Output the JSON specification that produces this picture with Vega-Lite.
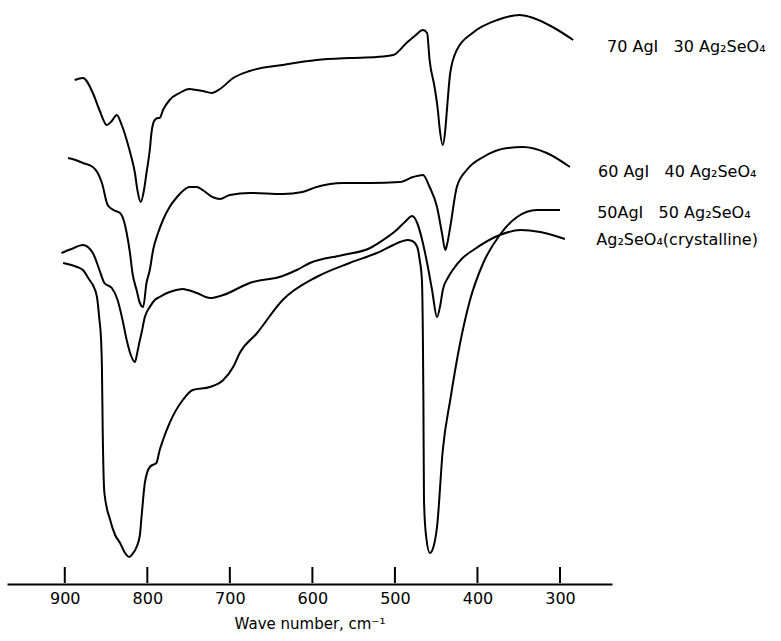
{
  "$schema": "https://vega.github.io/schema/vega-lite/v6.json",
  "width": 605,
  "height": 584,
  "autosize": {"type": "none"},
  "padding": {"left": 7, "top": 0, "right": 169, "bottom": 57},
  "background": "white",
  "config": {"view": {"stroke": null}, "font": "DejaVu Sans"},
  "datasets": {
    "spectra": [
      {"s": "70AgI", "wn": 888, "t": 504}, {"s": "70AgI", "wn": 878, "t": 506}, {"s": "70AgI", "wn": 866, "t": 491}, {"s": "70AgI", "wn": 858, "t": 474}, {"s": "70AgI", "wn": 849, "t": 459}, {"s": "70AgI", "wn": 843, "t": 463}, {"s": "70AgI", "wn": 837, "t": 469}, {"s": "70AgI", "wn": 831, "t": 459}, {"s": "70AgI", "wn": 825, "t": 444}, {"s": "70AgI", "wn": 820, "t": 429}, {"s": "70AgI", "wn": 815, "t": 411}, {"s": "70AgI", "wn": 812, "t": 394}, {"s": "70AgI", "wn": 808, "t": 382}, {"s": "70AgI", "wn": 804, "t": 394}, {"s": "70AgI", "wn": 801, "t": 411}, {"s": "70AgI", "wn": 797, "t": 434}, {"s": "70AgI", "wn": 795, "t": 451}, {"s": "70AgI", "wn": 791, "t": 464}, {"s": "70AgI", "wn": 787, "t": 466}, {"s": "70AgI", "wn": 785, "t": 466}, {"s": "70AgI", "wn": 781, "t": 474}, {"s": "70AgI", "wn": 773, "t": 484}, {"s": "70AgI", "wn": 761, "t": 491}, {"s": "70AgI", "wn": 749, "t": 495}, {"s": "70AgI", "wn": 740, "t": 494}, {"s": "70AgI", "wn": 733, "t": 493}, {"s": "70AgI", "wn": 722, "t": 491}, {"s": "70AgI", "wn": 712, "t": 495}, {"s": "70AgI", "wn": 696, "t": 506}, {"s": "70AgI", "wn": 676, "t": 513}, {"s": "70AgI", "wn": 636, "t": 519}, {"s": "70AgI", "wn": 595, "t": 524}, {"s": "70AgI", "wn": 555, "t": 526}, {"s": "70AgI", "wn": 522, "t": 527}, {"s": "70AgI", "wn": 502, "t": 529}, {"s": "70AgI", "wn": 486, "t": 541}, {"s": "70AgI", "wn": 476, "t": 548}, {"s": "70AgI", "wn": 466, "t": 554}, {"s": "70AgI", "wn": 461, "t": 551}, {"s": "70AgI", "wn": 458, "t": 524}, {"s": "70AgI", "wn": 452, "t": 497}, {"s": "70AgI", "wn": 448, "t": 474}, {"s": "70AgI", "wn": 446, "t": 457}, {"s": "70AgI", "wn": 442, "t": 439}, {"s": "70AgI", "wn": 439, "t": 454}, {"s": "70AgI", "wn": 437, "t": 474}, {"s": "70AgI", "wn": 433, "t": 511}, {"s": "70AgI", "wn": 425, "t": 534}, {"s": "70AgI", "wn": 406, "t": 551}, {"s": "70AgI", "wn": 376, "t": 564}, {"s": "70AgI", "wn": 349, "t": 569}, {"s": "70AgI", "wn": 336, "t": 567}, {"s": "70AgI", "wn": 309, "t": 557}, {"s": "70AgI", "wn": 284, "t": 544},
      {"s": "60AgI", "wn": 896, "t": 426}, {"s": "60AgI", "wn": 887, "t": 424}, {"s": "60AgI", "wn": 878, "t": 421}, {"s": "60AgI", "wn": 866, "t": 417}, {"s": "60AgI", "wn": 860, "t": 411}, {"s": "60AgI", "wn": 855, "t": 401}, {"s": "60AgI", "wn": 848, "t": 379}, {"s": "60AgI", "wn": 841, "t": 374}, {"s": "60AgI", "wn": 833, "t": 371}, {"s": "60AgI", "wn": 828, "t": 362}, {"s": "60AgI", "wn": 825, "t": 351}, {"s": "60AgI", "wn": 821, "t": 331}, {"s": "60AgI", "wn": 818, "t": 311}, {"s": "60AgI", "wn": 813, "t": 294}, {"s": "60AgI", "wn": 809, "t": 281}, {"s": "60AgI", "wn": 805, "t": 277}, {"s": "60AgI", "wn": 801, "t": 301}, {"s": "60AgI", "wn": 797, "t": 314}, {"s": "60AgI", "wn": 793, "t": 334}, {"s": "60AgI", "wn": 787, "t": 351}, {"s": "60AgI", "wn": 781, "t": 364}, {"s": "60AgI", "wn": 773, "t": 377}, {"s": "60AgI", "wn": 764, "t": 387}, {"s": "60AgI", "wn": 757, "t": 393}, {"s": "60AgI", "wn": 749, "t": 397}, {"s": "60AgI", "wn": 740, "t": 397}, {"s": "60AgI", "wn": 733, "t": 394}, {"s": "60AgI", "wn": 721, "t": 387}, {"s": "60AgI", "wn": 712, "t": 385}, {"s": "60AgI", "wn": 700, "t": 389}, {"s": "60AgI", "wn": 676, "t": 391}, {"s": "60AgI", "wn": 636, "t": 390}, {"s": "60AgI", "wn": 612, "t": 392}, {"s": "60AgI", "wn": 595, "t": 397}, {"s": "60AgI", "wn": 563, "t": 401}, {"s": "60AgI", "wn": 530, "t": 401}, {"s": "60AgI", "wn": 494, "t": 402}, {"s": "60AgI", "wn": 478, "t": 407}, {"s": "60AgI", "wn": 466, "t": 409}, {"s": "60AgI", "wn": 458, "t": 397}, {"s": "60AgI", "wn": 449, "t": 377}, {"s": "60AgI", "wn": 443, "t": 351}, {"s": "60AgI", "wn": 439, "t": 334}, {"s": "60AgI", "wn": 437, "t": 339}, {"s": "60AgI", "wn": 433, "t": 357}, {"s": "60AgI", "wn": 425, "t": 397}, {"s": "60AgI", "wn": 413, "t": 414}, {"s": "60AgI", "wn": 393, "t": 427}, {"s": "60AgI", "wn": 364, "t": 436}, {"s": "60AgI", "wn": 345, "t": 437}, {"s": "60AgI", "wn": 316, "t": 431}, {"s": "60AgI", "wn": 288, "t": 417},
      {"s": "50AgI", "wn": 904, "t": 331}, {"s": "50AgI", "wn": 892, "t": 335}, {"s": "50AgI", "wn": 878, "t": 339}, {"s": "50AgI", "wn": 866, "t": 331}, {"s": "50AgI", "wn": 858, "t": 314}, {"s": "50AgI", "wn": 852, "t": 301}, {"s": "50AgI", "wn": 843, "t": 296}, {"s": "50AgI", "wn": 836, "t": 284}, {"s": "50AgI", "wn": 830, "t": 264}, {"s": "50AgI", "wn": 825, "t": 244}, {"s": "50AgI", "wn": 820, "t": 229}, {"s": "50AgI", "wn": 815, "t": 222}, {"s": "50AgI", "wn": 812, "t": 232}, {"s": "50AgI", "wn": 809, "t": 244}, {"s": "50AgI", "wn": 807, "t": 251}, {"s": "50AgI", "wn": 803, "t": 267}, {"s": "50AgI", "wn": 797, "t": 277}, {"s": "50AgI", "wn": 791, "t": 284}, {"s": "50AgI", "wn": 785, "t": 287}, {"s": "50AgI", "wn": 776, "t": 291}, {"s": "50AgI", "wn": 769, "t": 293}, {"s": "50AgI", "wn": 757, "t": 295}, {"s": "50AgI", "wn": 751, "t": 294}, {"s": "50AgI", "wn": 740, "t": 291}, {"s": "50AgI", "wn": 724, "t": 286}, {"s": "50AgI", "wn": 708, "t": 289}, {"s": "50AgI", "wn": 676, "t": 301}, {"s": "50AgI", "wn": 636, "t": 308}, {"s": "50AgI", "wn": 619, "t": 314}, {"s": "50AgI", "wn": 603, "t": 321}, {"s": "50AgI", "wn": 563, "t": 329}, {"s": "50AgI", "wn": 530, "t": 336}, {"s": "50AgI", "wn": 518, "t": 342}, {"s": "50AgI", "wn": 498, "t": 354}, {"s": "50AgI", "wn": 488, "t": 362}, {"s": "50AgI", "wn": 479, "t": 368}, {"s": "50AgI", "wn": 473, "t": 361}, {"s": "50AgI", "wn": 467, "t": 344}, {"s": "50AgI", "wn": 461, "t": 321}, {"s": "50AgI", "wn": 455, "t": 294}, {"s": "50AgI", "wn": 449, "t": 267}, {"s": "50AgI", "wn": 445, "t": 279}, {"s": "50AgI", "wn": 442, "t": 294}, {"s": "50AgI", "wn": 436, "t": 306}, {"s": "50AgI", "wn": 430, "t": 314}, {"s": "50AgI", "wn": 418, "t": 326}, {"s": "50AgI", "wn": 405, "t": 334}, {"s": "50AgI", "wn": 373, "t": 349}, {"s": "50AgI", "wn": 348, "t": 354}, {"s": "50AgI", "wn": 324, "t": 352}, {"s": "50AgI", "wn": 294, "t": 345},
      {"s": "cryst", "wn": 902, "t": 321}, {"s": "cryst", "wn": 885, "t": 317}, {"s": "cryst", "wn": 878, "t": 314}, {"s": "cryst", "wn": 870, "t": 304}, {"s": "cryst", "wn": 866, "t": 299}, {"s": "cryst", "wn": 861, "t": 287}, {"s": "cryst", "wn": 858, "t": 264}, {"s": "cryst", "wn": 856, "t": 244}, {"s": "cryst", "wn": 855, "t": 217}, {"s": "cryst", "wn": 854, "t": 151}, {"s": "cryst", "wn": 852, "t": 91}, {"s": "cryst", "wn": 845, "t": 64}, {"s": "cryst", "wn": 839, "t": 49}, {"s": "cryst", "wn": 833, "t": 41}, {"s": "cryst", "wn": 827, "t": 31}, {"s": "cryst", "wn": 822, "t": 27}, {"s": "cryst", "wn": 818, "t": 30}, {"s": "cryst", "wn": 813, "t": 37}, {"s": "cryst", "wn": 809, "t": 49}, {"s": "cryst", "wn": 807, "t": 67}, {"s": "cryst", "wn": 803, "t": 101}, {"s": "cryst", "wn": 797, "t": 117}, {"s": "cryst", "wn": 791, "t": 120}, {"s": "cryst", "wn": 789, "t": 121}, {"s": "cryst", "wn": 785, "t": 134}, {"s": "cryst", "wn": 781, "t": 144}, {"s": "cryst", "wn": 773, "t": 161}, {"s": "cryst", "wn": 757, "t": 184}, {"s": "cryst", "wn": 745, "t": 194}, {"s": "cryst", "wn": 724, "t": 197}, {"s": "cryst", "wn": 708, "t": 204}, {"s": "cryst", "wn": 696, "t": 217}, {"s": "cryst", "wn": 688, "t": 231}, {"s": "cryst", "wn": 667, "t": 251}, {"s": "cryst", "wn": 636, "t": 284}, {"s": "cryst", "wn": 595, "t": 307}, {"s": "cryst", "wn": 555, "t": 321}, {"s": "cryst", "wn": 522, "t": 331}, {"s": "cryst", "wn": 502, "t": 339}, {"s": "cryst", "wn": 494, "t": 342}, {"s": "cryst", "wn": 485, "t": 344}, {"s": "cryst", "wn": 479, "t": 343}, {"s": "cryst", "wn": 473, "t": 337}, {"s": "cryst", "wn": 470, "t": 324}, {"s": "cryst", "wn": 467.3, "t": 304}, {"s": "cryst", "wn": 466.1, "t": 244}, {"s": "cryst", "wn": 465.5, "t": 184}, {"s": "cryst", "wn": 464.8, "t": 84}, {"s": "cryst", "wn": 462.4, "t": 49}, {"s": "cryst", "wn": 457.6, "t": 31}, {"s": "cryst", "wn": 452.7, "t": 39}, {"s": "cryst", "wn": 449, "t": 57}, {"s": "cryst", "wn": 442, "t": 134}, {"s": "cryst", "wn": 433, "t": 184}, {"s": "cryst", "wn": 421, "t": 241}, {"s": "cryst", "wn": 409, "t": 284}, {"s": "cryst", "wn": 393, "t": 321}, {"s": "cryst", "wn": 373, "t": 349}, {"s": "cryst", "wn": 352, "t": 367}, {"s": "cryst", "wn": 328, "t": 374}, {"s": "cryst", "wn": 300, "t": 374}
    ],
    "labels": [
      {"label": "70 AgI\u00a0\u00a0 30 Ag₂SeO₄", "wn": 243, "t": 537},
      {"label": "60 AgI\u00a0\u00a0 40 Ag₂SeO₄", "wn": 254, "t": 412},
      {"label": "50AgI\u00a0\u00a0 50 Ag₂SeO₄", "wn": 255, "t": 371},
      {"label": "Ag₂SeO₄(crystalline)", "wn": 256, "t": 344}
    ],
    "tickvals": [
      {"tick": 900}, {"tick": 800}, {"tick": 700}, {"tick": 600}, {"tick": 500}, {"tick": 400}, {"tick": 300}
    ]
  },
  "layer": [
    {
      "data": {"name": "spectra"},
      "mark": {"type": "line", "color": "black", "strokeWidth": 2, "interpolate": "monotone"},
      "encoding": {
        "x": {
          "field": "wn", "type": "quantitative",
          "scale": {"domain": [237, 970], "reverse": true, "nice": false, "zero": false},
          "axis": {
            "title": "Wave number, cm⁻¹",
            "values": [900, 800, 700, 600, 500, 400, 300],
            "format": "d",
            "grid": false,
            "ticks": false,
            "domainColor": "black", "domainWidth": 2,
            "labelPadding": 6, "labelFontSize": 16, "labelColor": "black", "labelFont": "DejaVu Sans",
            "titleFontSize": 15, "titleFontWeight": "normal", "titleColor": "black", "titleFont": "DejaVu Sans", "titlePadding": 10
          }
        },
        "y": {
          "field": "t", "type": "quantitative",
          "scale": {"domain": [0, 584], "nice": false, "zero": false},
          "axis": null
        },
        "detail": {"field": "s"},
        "order": {"field": "wn", "sort": "descending"}
      }
    },
    {
      "data": {"name": "labels"},
      "mark": {"type": "text", "align": "left", "baseline": "middle", "fontSize": 16, "color": "black", "font": "DejaVu Sans"},
      "encoding": {
        "x": {"field": "wn", "type": "quantitative"},
        "y": {"field": "t", "type": "quantitative"},
        "text": {"field": "label"}
      }
    },
    {
      "data": {"name": "tickvals"},
      "mark": {"type": "tick", "color": "black", "thickness": 2, "size": 16, "orient": "vertical", "opacity": 1},
      "encoding": {
        "x": {"field": "tick", "type": "quantitative"},
        "y": {"datum": 9, "type": "quantitative"}
      }
    }
  ]
}
